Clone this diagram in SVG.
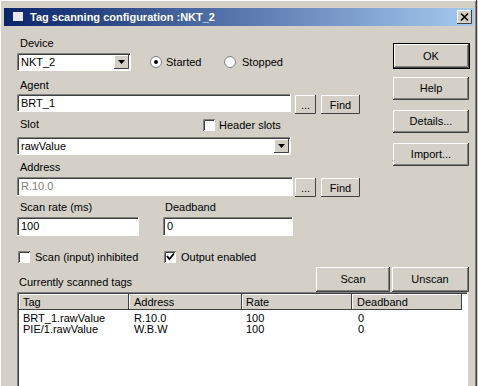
<svg xmlns="http://www.w3.org/2000/svg" width="478" height="386" viewBox="0 0 478 386">
<defs>
<linearGradient id="tb" x1="0" y1="0" x2="1" y2="0">
<stop offset="0" stop-color="#0a246a"/>
<stop offset="1" stop-color="#a6caf0"/>
</linearGradient>
<style>
text{font-family:"Liberation Sans",Arial,sans-serif;font-size:11px;fill:#000}
.t{fill:#fff;font-weight:bold}
.c{text-anchor:middle}
.g{fill:#808080}
.face{fill:#d4d0c8}
.wh{fill:#fff}
.hl{stroke:#fff;fill:none}
.sh{stroke:#808080;fill:none}
.dk{stroke:#404040;fill:none}
.bk{stroke:#000;fill:none}
</style>
</defs>
<rect x="0" y="0" width="478" height="386" class="face"/>
<path d="M0.5,386 V0.5 H477" class="hl"/>
<path d="M476.5,0 V386" class="dk"/>
<path d="M475.5,1 V386" class="sh"/>

<g id="titlebar">
<rect x="4" y="8" width="470" height="18" fill="url(#tb)"/>
<rect x="13" y="12" width="10" height="9" fill="#e8e8f0"/>
<text x="30" y="21" class="t">Tag scanning configuration :NKT_2</text>
<rect x="457" y="10" width="15" height="14" class="face"/>
<path d="M457.5,24 V10.5 H472" class="hl"/>
<path d="M457,23.5 H471.5 V10" class="dk"/>
<path d="M461,13.5 L468,20.5 M468,13.5 L461,20.5" stroke="#000" stroke-width="1.6"/>
</g>

<g id="device">
<text x="20" y="47">Device</text>
<rect x="17" y="53" width="114" height="18" class="wh"/>
<path d="M17.5,71 V53.5 H131" class="sh"/>
<path d="M18.5,70 V54.5 H130" class="dk"/>
<path d="M130.5,53 V70.5 H17" class="hl"/>
<text x="21" y="66">NKT_2</text>
<rect x="114" y="55" width="15" height="14" class="face"/>
<path d="M114.5,69 V55.5 H129" class="hl"/>
<path d="M114,68.5 H128.5 V55" class="dk"/>
<path d="M118,60 h7 l-3.5,4 z" fill="#000"/>
</g>

<g id="started">
<circle cx="156" cy="62" r="5.5" class="wh" stroke="#808080"/>
<circle cx="156" cy="62" r="2" fill="#000"/>
<text x="166" y="66">Started</text>
</g>
<g id="stopped">
<circle cx="230" cy="62" r="5.5" class="wh" stroke="#808080"/>
<text x="242" y="66">Stopped</text>
</g>

<g id="btn-ok">
<rect x="393.5" y="43.5" width="76" height="25" class="face" stroke="#000"/>
<path d="M394.5,67 V44.5 H469" class="hl"/>
<path d="M394,67.5 H468.5 V44" class="dk"/>
<path d="M395,66.5 H467.5 V45" class="sh"/>
<text x="431" y="60" class="c">OK</text>
</g>
<g id="btn-help">
<rect x="393" y="77" width="76" height="23" class="face"/>
<path d="M393.5,100 V77.5 H469" class="hl"/>
<path d="M393,99.5 H468.5 V77" class="dk"/>
<path d="M394,98.5 H467.5 V78" class="sh"/>
<text x="431" y="92" class="c">Help</text>
</g>
<g id="btn-details">
<rect x="393" y="110" width="76" height="23" class="face"/>
<path d="M393.5,133 V110.5 H469" class="hl"/>
<path d="M393,132.5 H468.5 V110" class="dk"/>
<path d="M394,131.5 H467.5 V111" class="sh"/>
<text x="431" y="125" class="c">Details...</text>
</g>
<g id="btn-import">
<rect x="393" y="143" width="76" height="23" class="face"/>
<path d="M393.5,166 V143.5 H469" class="hl"/>
<path d="M393,165.5 H468.5 V143" class="dk"/>
<path d="M394,164.5 H467.5 V144" class="sh"/>
<text x="431" y="158" class="c">Import...</text>
</g>

<g id="agent">
<text x="20" y="89">Agent</text>
<rect x="17" y="94" width="274" height="18" class="wh"/>
<path d="M17.5,112 V94.5 H291" class="sh"/>
<path d="M18.5,111 V95.5 H290" class="dk"/>
<path d="M290.5,94 V111.5 H17" class="hl"/>
<text x="21" y="107">BRT_1</text>
</g>
<g id="agent-browse">
<rect x="295" y="95" width="21" height="19" class="face"/>
<path d="M295.5,114 V95.5 H316" class="hl"/>
<path d="M295,113.5 H315.5 V95" class="dk"/>
<text x="305.5" y="109" class="c">...</text>
</g>
<g id="agent-find">
<rect x="321" y="95" width="39" height="19" class="face"/>
<path d="M321.5,114 V95.5 H360" class="hl"/>
<path d="M321,113.5 H359.5 V95" class="dk"/>
<text x="340.5" y="109" class="c">Find</text>
</g>

<g id="slot">
<text x="20" y="128">Slot</text>
<rect x="17" y="137" width="274" height="18" class="wh"/>
<path d="M17.5,155 V137.5 H291" class="sh"/>
<path d="M18.5,154 V138.5 H290" class="dk"/>
<path d="M290.5,137 V154.5 H17" class="hl"/>
<text x="21" y="150">rawValue</text>
<rect x="274" y="139" width="15" height="14" class="face"/>
<path d="M274.5,153 V139.5 H289" class="hl"/>
<path d="M274,152.5 H288.5 V139" class="dk"/>
<path d="M278,144 h7 l-3.5,4 z" fill="#000"/>
</g>
<g id="header-slots">
<rect x="203" y="119" width="12" height="12" class="wh"/>
<path d="M203.5,131 V119.5 H215" class="sh"/>
<path d="M204.5,130 V120.5 H214" class="dk"/>
<text x="219" y="129">Header slots</text>
</g>

<g id="address">
<text x="20" y="171">Address</text>
<rect x="17" y="177" width="276" height="19" class="wh"/>
<path d="M17.5,196 V177.5 H293" class="sh"/>
<path d="M18.5,195 V178.5 H292" class="dk"/>
<path d="M292.5,177 V195.5 H17" class="hl"/>
<text x="21" y="190" class="g">R.10.0</text>
</g>
<g id="address-browse">
<rect x="295" y="178" width="21" height="19" class="face"/>
<path d="M295.5,197 V178.5 H316" class="hl"/>
<path d="M295,196.5 H315.5 V178" class="dk"/>
<text x="305.5" y="192" class="c">...</text>
</g>
<g id="address-find">
<rect x="321" y="178" width="39" height="19" class="face"/>
<path d="M321.5,197 V178.5 H360" class="hl"/>
<path d="M321,196.5 H359.5 V178" class="dk"/>
<text x="340.5" y="192" class="c">Find</text>
</g>

<g id="scanrate">
<text x="20" y="211">Scan rate (ms)</text>
<rect x="17" y="217" width="122" height="19" class="wh"/>
<path d="M17.5,236 V217.5 H139" class="sh"/>
<path d="M18.5,235 V218.5 H138" class="dk"/>
<path d="M138.5,217 V235.5 H17" class="hl"/>
<text x="21" y="230">100</text>
</g>
<g id="deadband">
<text x="165" y="211">Deadband</text>
<rect x="163" y="217" width="130" height="19" class="wh"/>
<path d="M163.5,236 V217.5 H293" class="sh"/>
<path d="M164.5,235 V218.5 H292" class="dk"/>
<path d="M292.5,217 V235.5 H163" class="hl"/>
<text x="167" y="230">0</text>
</g>

<g id="chk-inhibited">
<rect x="18" y="251" width="12" height="12" class="wh"/>
<path d="M18.5,263 V251.5 H30" class="sh"/>
<path d="M19.5,262 V252.5 H29" class="dk"/>
<text x="35" y="261">Scan (input) inhibited</text>
</g>
<g id="chk-output">
<rect x="164" y="251" width="12" height="12" class="wh"/>
<path d="M164.5,263 V251.5 H176" class="sh"/>
<path d="M165.5,262 V252.5 H175" class="dk"/>
<path d="M167,256 L169.5,259 L174,253.5" stroke="#000" stroke-width="1.8" fill="none"/>
<text x="181" y="261">Output enabled</text>
</g>

<text x="19" y="286">Currently scanned tags</text>

<g id="btn-scan">
<rect x="316" y="267" width="74" height="25" class="face"/>
<path d="M316.5,292 V267.5 H390" class="hl"/>
<path d="M316,291.5 H389.5 V267" class="dk"/>
<path d="M317,290.5 H388.5 V268" class="sh"/>
<text x="353" y="283" class="c">Scan</text>
</g>
<g id="btn-unscan">
<rect x="392" y="267" width="77" height="25" class="face"/>
<path d="M392.5,292 V267.5 H469" class="hl"/>
<path d="M392,291.5 H468.5 V267" class="dk"/>
<path d="M393,290.5 H467.5 V268" class="sh"/>
<text x="430" y="283" class="c">Unscan</text>
</g>

<g id="taglist">
<rect x="17" y="292" width="451" height="94" class="wh"/>
<path d="M17.5,386 V292.5 H468" class="sh"/>
<path d="M18.5,386 V293.5 H467" class="dk"/>
<path d="M467.5,292 V386" class="hl"/>
<rect x="19" y="294" width="443" height="16" class="face"/>
<path d="M19.5,310 V294.5 H129 M129.5,310 V294.5 H242 M242.5,310 V294.5 H352 M352.5,310 V294.5 H462" class="hl"/>
<path d="M19,309.5 H462 M128.5,294 V310 M241.5,294 V310 M351.5,294 V310 M461.5,294 V310" class="dk"/>
<text x="23" y="306">Tag</text>
<text x="134" y="306">Address</text>
<text x="246" y="306">Rate</text>
<text x="357" y="306">Deadband</text>
<text x="23" y="322">BRT_1.rawValue</text>
<text x="134" y="322">R.10.0</text>
<text x="246" y="322">100</text>
<text x="358" y="322">0</text>
<text x="23" y="333">PIE/1.rawValue</text>
<text x="134" y="333">W.B.W</text>
<text x="246" y="333">100</text>
<text x="358" y="333">0</text>
</g>
</svg>
